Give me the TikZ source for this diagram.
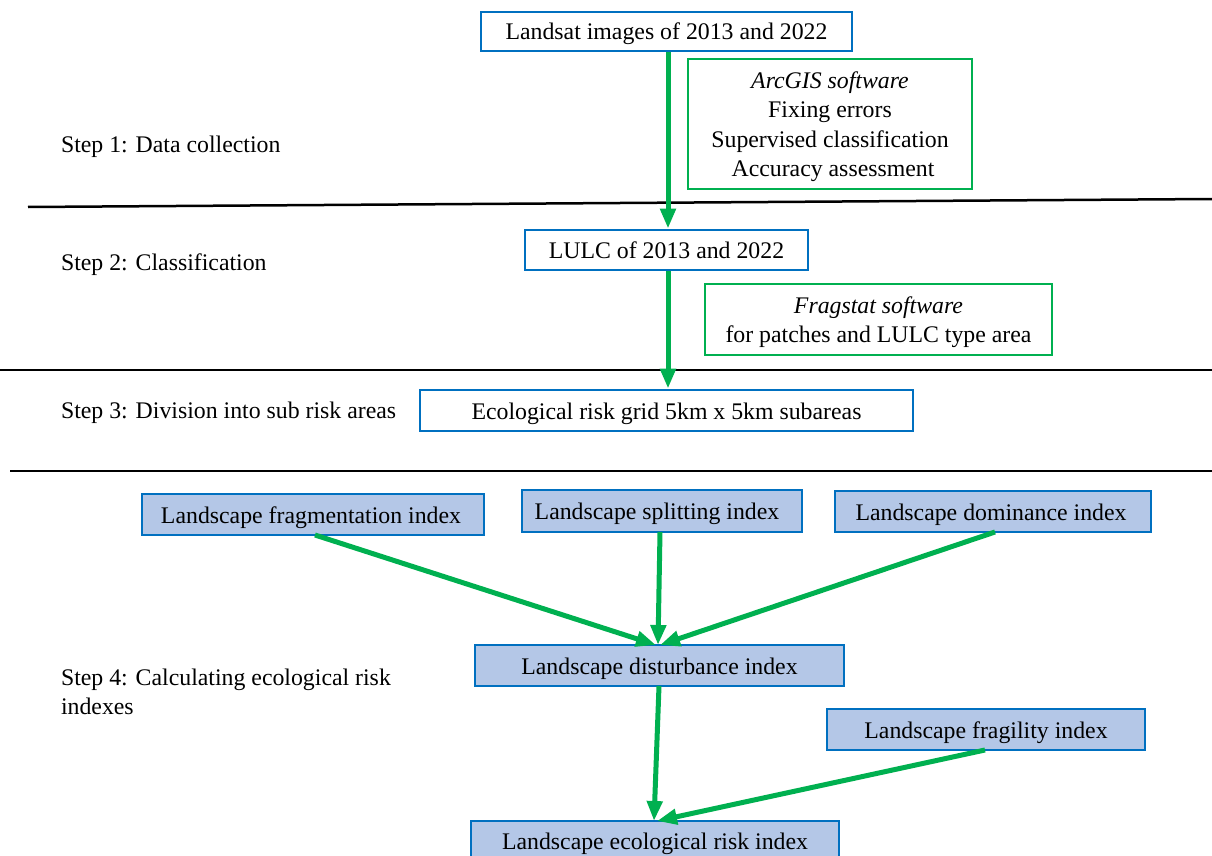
\documentclass[tikz,border=0pt]{standalone}
\usepackage{fontspec}
\setmainfont{Liberation Serif}
\usetikzlibrary{arrows.meta}
\definecolor{bblue}{RGB}{0,112,192}
\definecolor{ggreen}{RGB}{0,176,80}
\definecolor{lblue}{RGB}{180,199,231}
\newcommand{\lowtext}[1]{\raisebox{-2.5pt}[\height][\depth]{\begin{tabular}{@{}c@{}}#1\end{tabular}}}
\tikzset{
  every node/.style={font=\fontsize{23.8}{29.5}\selectfont},
  oneline/.style={text height=17pt,text depth=0pt},
  plainbox/.style={draw=bblue,line width=2.8pt,fill=white,oneline},
  filledbox/.style={draw=bblue,line width=2.8pt,fill=lblue,oneline},
  greenbox/.style={draw=ggreen,line width=2.5pt,fill=white},
  flow/.style={draw=ggreen,line width=5pt,-{Triangle[length=20pt,width=15pt]}},
  divider/.style={draw=black,line width=2.5pt},
  steplabel/.style={anchor=west,align=left}
}
\begin{document}
\begin{tikzpicture}[x=1pt,y=-1pt]
\useasboundingbox (0,0) rectangle (1212,856);
% dividers
\draw[divider] (28,207) -- (1212,199);
\draw[divider] (0,370) -- (1212,370);
\draw[divider] (10,471) -- (1212,471);
% step labels
\node[steplabel] (s1) at (57.5,147) {Step 1: Data collection};
\node[steplabel] (s2) at (57.5,265) {Step 2: Classification};
\node[steplabel] (s3) at (57.5,413) {Step 3: Division into sub risk areas};
\node[steplabel] (s4) at (57.5,692) {Step 4: Calculating ecological risk\\indexes};
% boxes
\node[plainbox,minimum width=371pt,minimum height=39pt] (landsat) at (666.5,31.5) {Landsat images of 2013 and 2022};
\node[greenbox,minimum width=284pt,minimum height=130pt] (arcgis) at (830,124) {\lowtext{\textit{ArcGIS software}\\Fixing errors\\Supervised classification\\ \hspace*{6pt}Accuracy assessment}};
\node[plainbox,minimum width=283pt,minimum height=40pt] (lulc) at (666.5,250) {LULC of 2013 and 2022};
\node[greenbox,minimum width=347pt,minimum height=71pt] (frag) at (878.5,319.5) {\lowtext{\textit{Fragstat software}\\for patches and LULC type area}};
\node[plainbox,minimum width=493pt,minimum height=41pt] (grid) at (666.5,410.5) {Ecological risk grid 5km x 5km subareas};
\node[filledbox,minimum width=342pt,minimum height=41pt] (lfi) at (313,514.5) {\hspace*{-4pt}Landscape fragmentation index};
\node[filledbox,minimum width=280pt,minimum height=42pt] (lsi) at (662,511) {\hspace*{-10pt}Landscape splitting index};
\node[filledbox,minimum width=316pt,minimum height=41pt] (ldi) at (993,511.5) {\hspace*{-4pt}Landscape dominance index};
\node[filledbox,minimum width=369pt,minimum height=41pt] (ldist) at (659.5,665.5) {Landscape disturbance index};
\node[filledbox,minimum width=318pt,minimum height=41pt] (lfrag) at (986,729.5) {Landscape fragility index};
\node[filledbox,minimum width=368pt,minimum height=49pt,text depth=9pt] (leri) at (655,845.5) {Landscape ecological risk index};
% connectors
\coordinate (a1s) at (668,51);
\coordinate (a1e) at (668,230);
\draw[flow] (landsat.south -| a1s) -- (lulc.north -| a1e);
\draw[flow] (lulc.south -| a1s) -- (grid.north -| a1e);
\coordinate (fs) at (315,535);
\coordinate (ss) at (660,532);
\coordinate (ds) at (995,532);
\coordinate (t1) at (656,645);
\coordinate (t2) at (658,645);
\coordinate (t3) at (660,645);
\draw[flow] (fs) -- (t1);
\draw[flow] (ss) -- (t2);
\draw[flow] (ds) -- (t3);
\coordinate (d1) at (659,686);
\coordinate (e1) at (654,821);
\coordinate (f1) at (985,750);
\coordinate (e2) at (657,821);
\draw[flow] (d1) -- (e1);
\draw[flow] (f1) -- (e2);
\end{tikzpicture}
\end{document}
